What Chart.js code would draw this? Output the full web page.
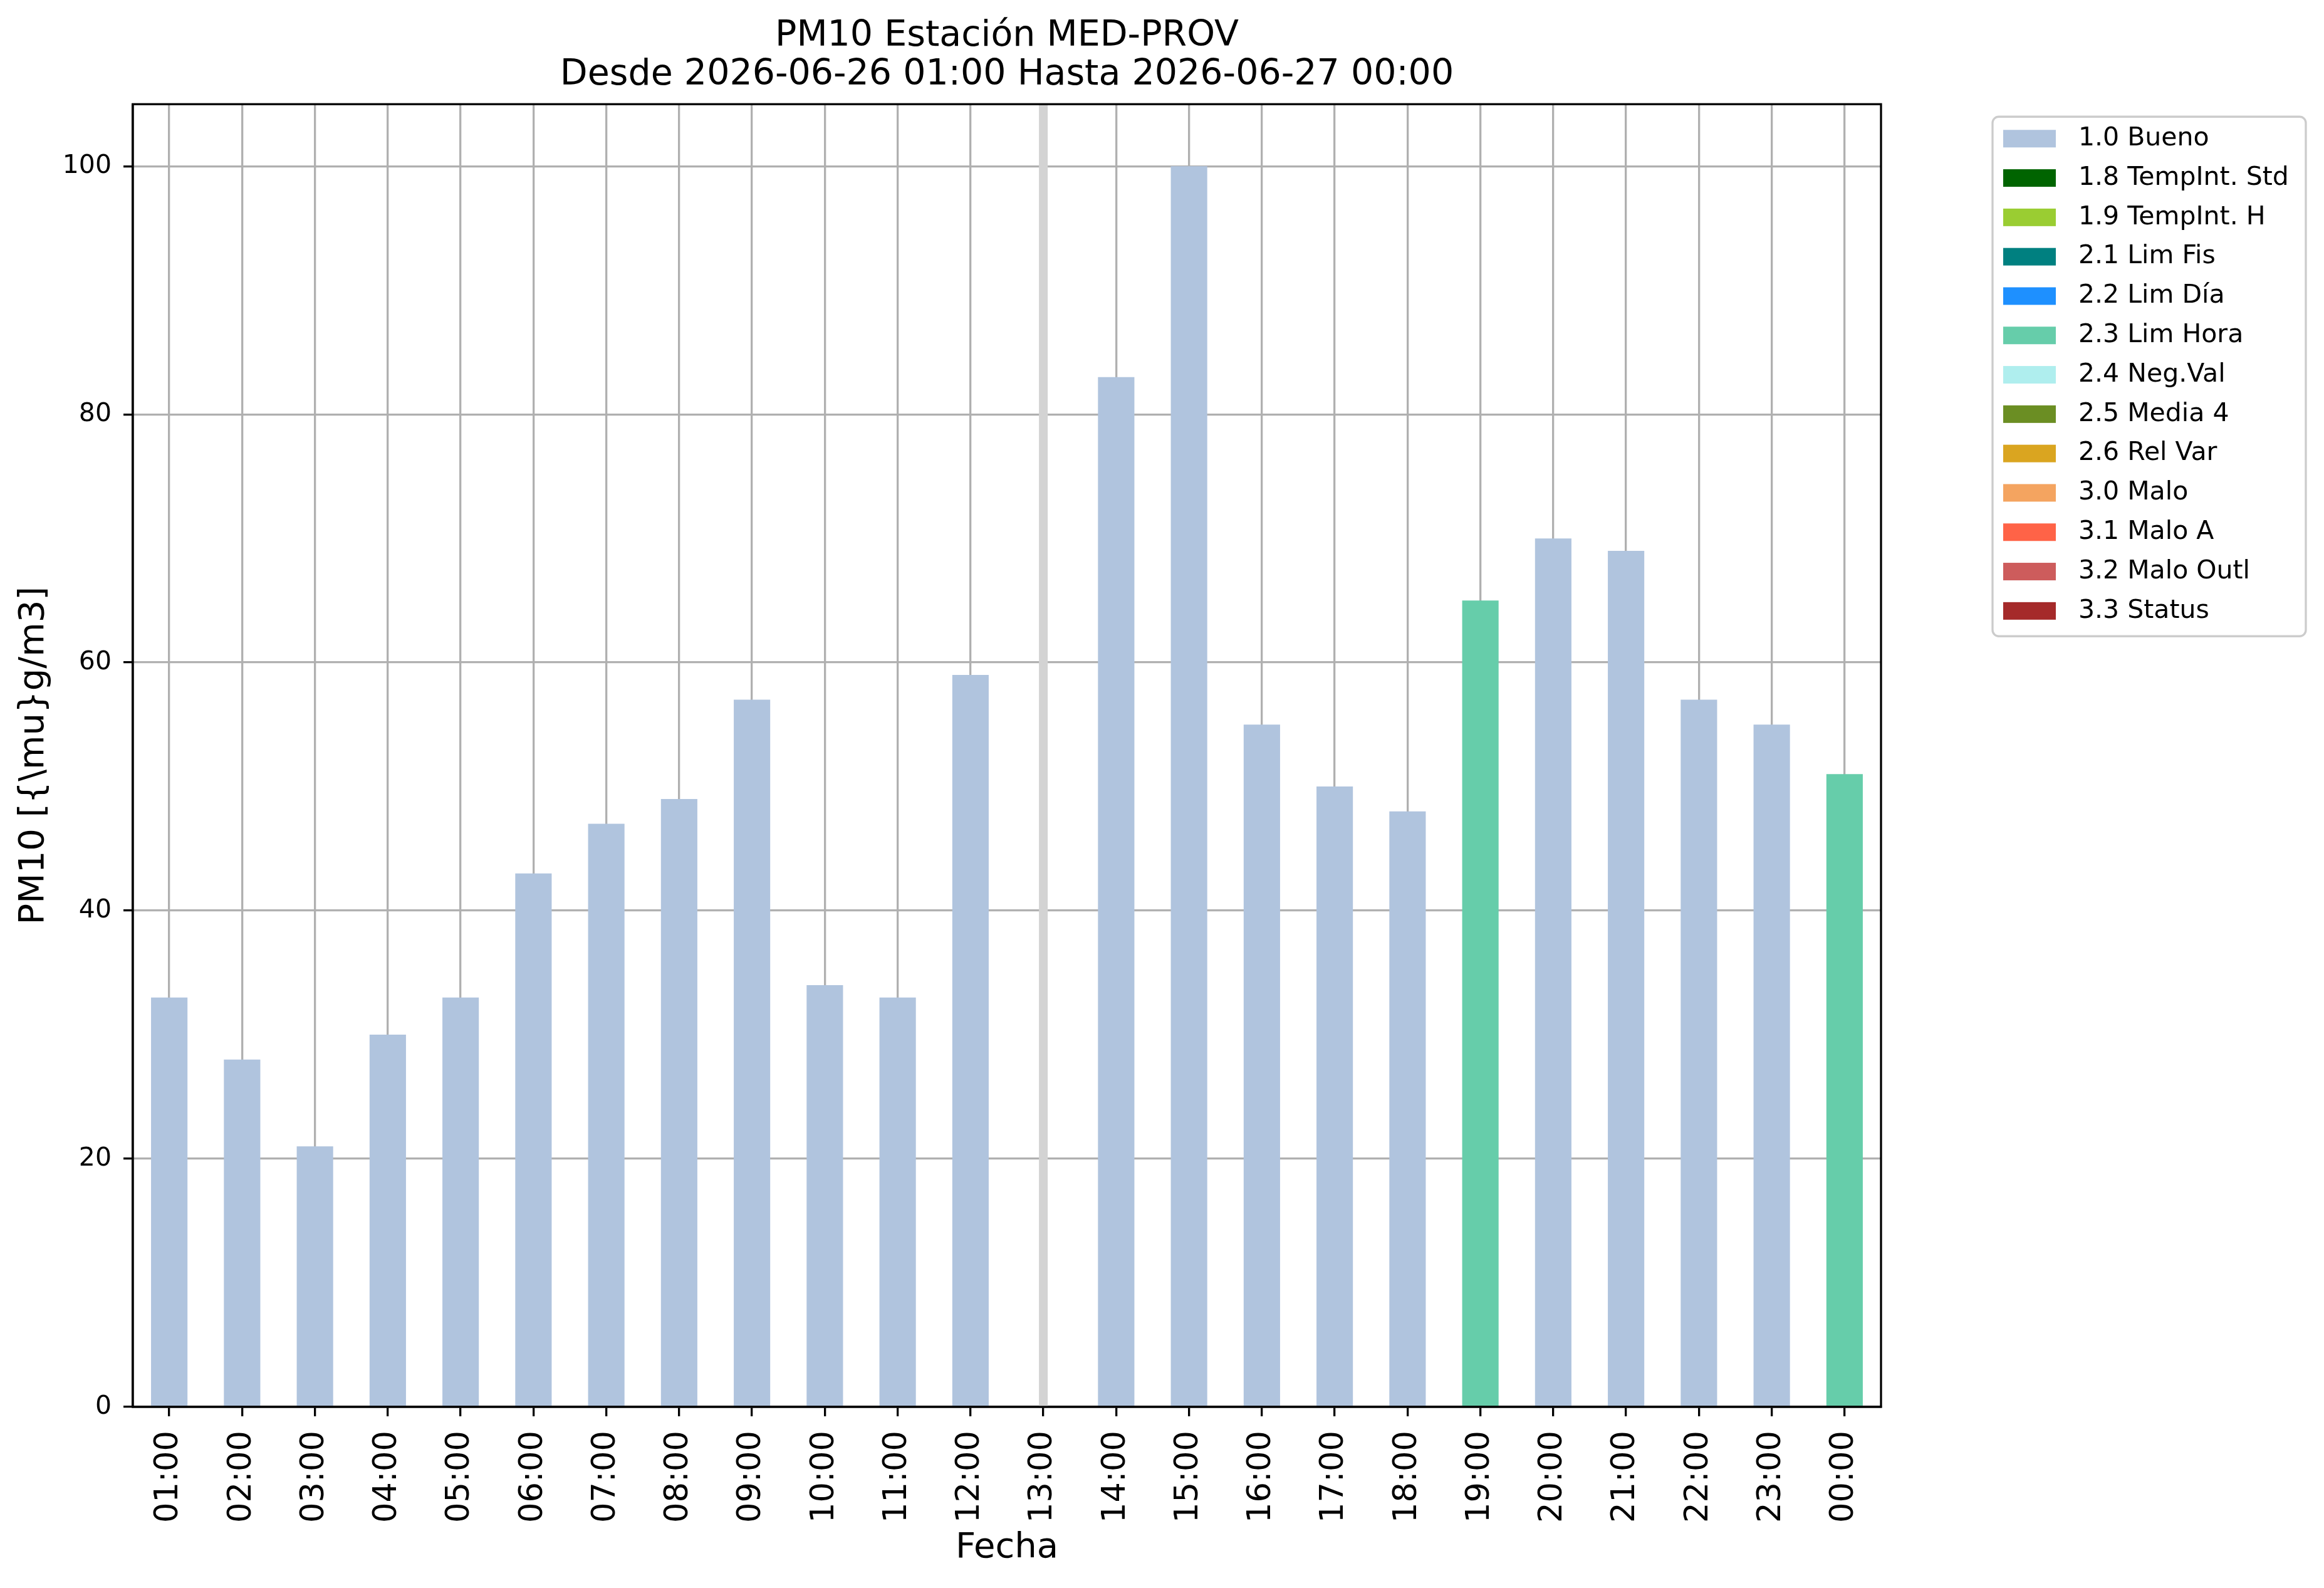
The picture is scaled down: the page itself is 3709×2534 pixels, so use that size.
<!DOCTYPE html>
<html>
<head>
<meta charset="utf-8">
<title>PM10 Estación MED-PROV</title>
<script src="https://cdn.jsdelivr.net/npm/chart.js@4.4.1/dist/chart.umd.min.js"></script>
<style>
  html, body { margin: 0; padding: 0; background: #ffffff; }
  #wrap { width: 3709px; height: 2534px; }
</style>
</head>
<body>
<div id="wrap"><canvas id="grafico" width="3709" height="2534" style="width:3709px;height:2534px"></canvas></div>
<script>
// horas del eje x
var horas = ["01:00", "02:00", "03:00", "04:00", "05:00", "06:00", "07:00", "08:00",
  "09:00", "10:00", "11:00", "12:00", "13:00", "14:00", "15:00", "16:00",
  "17:00", "18:00", "19:00", "20:00", "21:00", "22:00", "23:00", "00:00"];

// valores PM10 (null = dato faltante)
var pm10 = [33, 28, 21, 30, 33, 43, 47, 49, 57, 34, 33, 59, null, 83, 100, 55,
  50, 48, 65, 70, 69, 57, 55, 51];

// bandera de calidad de cada hora
var banderas = ["1.0", "1.0", "1.0", "1.0", "1.0", "1.0", "1.0", "1.0",
  "1.0", "1.0", "1.0", "1.0", null, "1.0", "1.0", "1.0",
  "1.0", "1.0", "2.3", "1.0", "1.0", "1.0", "1.0", "2.3"];

var codigosFlag = ["1.0", "1.8", "1.9", "2.1", "2.2", "2.3", "2.4", "2.5", "2.6", "3.0", "3.1", "3.2", "3.3"];
var nombresFlag = ["1.0 Bueno", "1.8 TempInt. Std", "1.9 TempInt. H", "2.1 Lim Fis", "2.2 Lim Día",
  "2.3 Lim Hora", "2.4 Neg.Val", "2.5 Media 4", "2.6 Rel Var", "3.0 Malo", "3.1 Malo A",
  "3.2 Malo Outl", "3.3 Status"];
var coloresFlag = ["#b0c4de", "#006400", "#9acd32", "#008080", "#1e90ff", "#66cdaa", "#afeeee",
  "#6b8e23", "#daa520", "#f4a460", "#ff6347", "#cd5c5c", "#a52a2a"];

var yTicks = [0, 20, 40, 60, 80, 100];
var yMax = 105;

var FUENTE = "DejaVu Sans";
var LW = 3.3;

function getDatasets() {
  var datasets = [];
  for (var i = 0; i < codigosFlag.length; i++) {
    var code = codigosFlag[i];
    datasets.push({
      label: nombresFlag[i],
      data: pm10.map(function (v, j) { return banderas[j] === code ? v : null; }),
      backgroundColor: coloresFlag[i],
      borderWidth: 0,
      barPercentage: 0.5,
      categoryPercentage: 1.0
    });
  }
  return datasets;
}

// linea gris en las horas sin dato
var faltantesPlugin = {
  id: "faltantes",
  afterDatasetsDraw: function (chart) {
    var ctx = chart.ctx, area = chart.chartArea, xs = chart.scales.x;
    ctx.save();
    ctx.strokeStyle = "#d3d3d3";
    ctx.lineWidth = 14;
    pm10.forEach(function (v, i) {
      if (v === null) {
        var x = xs.getPixelForValue(i);
        ctx.beginPath();
        ctx.moveTo(x, area.top);
        ctx.lineTo(x, area.bottom);
        ctx.stroke();
      }
    });
    ctx.restore();
  }
};

// marco del eje y leyenda tipo matplotlib
var marcoPlugin = {
  id: "marco",
  afterDraw: function (chart) {
    var ctx = chart.ctx, a = chart.chartArea;
    ctx.save();
    ctx.strokeStyle = "#000000";
    ctx.lineWidth = LW;
    ctx.strokeRect(a.left, a.top, a.right - a.left, a.bottom - a.top);

    // leyenda
    var lx = a.right + 178, ly = a.top + 20, lw = 500, lh = 829;
    ctx.beginPath();
    ctx.roundRect(lx, ly, lw, lh, 10);
    ctx.fillStyle = "rgba(255,255,255,0.8)";
    ctx.fill();
    ctx.strokeStyle = "#cccccc";
    ctx.lineWidth = LW;
    ctx.stroke();

    ctx.font = "41px '" + FUENTE + "'";
    ctx.textBaseline = "middle";
    ctx.textAlign = "left";
    chart.data.datasets.forEach(function (ds, i) {
      var cy = ly + 35 + i * 62.8;
      ctx.fillStyle = ds.backgroundColor;
      ctx.fillRect(lx + 17, cy - 14, 84, 28);
      ctx.fillStyle = "#000000";
      ctx.fillText(ds.label, lx + 137, cy);
    });
    ctx.restore();
  }
};

var ctx = document.getElementById("grafico").getContext("2d");

var config = {
  type: "bar",
  data: {
    labels: horas,
    datasets: getDatasets()
  },
  options: {
    responsive: false,
    devicePixelRatio: 1,
    animation: false,
    layout: {
      padding: { left: 0, right: 707, top: 0, bottom: 0 }
    },
    scales: {
      x: {
        stacked: true,
        offset: true,
        z: 1,
        grid: {
          offset: false,
          color: "#b0b0b0",
          lineWidth: LW,
          tickColor: "#000000",
          tickWidth: LW,
          tickLength: 15
        },
        border: { display: true, color: "#000000", width: LW },
        ticks: {
          autoSkip: false,
          maxRotation: 90,
          minRotation: 90,
          padding: 23,
          color: "#000000",
          font: { family: FUENTE, size: 51 }
        },
        title: {
          display: true,
          text: "Fecha",
          color: "#000000",
          font: { family: FUENTE, size: 56 },
          padding: { top: 0, bottom: 30 }
        },
        afterFit: function (s) {
          s.height = 289;
          s.paddingLeft = 0;
          s.paddingRight = 0;
        }
      },
      y: {
        stacked: true,
        min: 0,
        max: yMax,
        z: 1,
        grid: {
          color: "#b0b0b0",
          lineWidth: LW,
          tickColor: "#000000",
          tickWidth: LW,
          tickLength: 15
        },
        border: { display: true, color: "#000000", width: LW },
        ticks: {
          padding: 19,
          color: "#000000",
          font: { family: FUENTE, size: 41 }
        },
        afterBuildTicks: function (s) {
          s.ticks = yTicks.map(function (v) { return { value: v }; });
        },
        title: {
          display: true,
          text: "PM10 [{\\mu}g/m3]",
          color: "#000000",
          font: { family: FUENTE, size: 56 },
          padding: { top: 21, bottom: 0 }
        },
        afterFit: function (s) {
          s.width = 212;
          s.paddingTop = 0;
          s.paddingBottom = 0;
        }
      }
    },
    plugins: {
      legend: { display: false },
      tooltip: { enabled: false },
      title: {
        display: true,
        fullSize: false,
        text: ["PM10 Estación MED-PROV", "Desde 2026-06-26 01:00 Hasta 2026-06-27 00:00"],
        color: "#000000",
        font: { family: FUENTE, size: 57, weight: "normal", lineHeight: 1.09 },
        padding: { top: 27, bottom: 15 }
      }
    }
  },
  plugins: [faltantesPlugin, marcoPlugin]
};

var grafico = new Chart(ctx, config);
</script>
</body>
</html>
